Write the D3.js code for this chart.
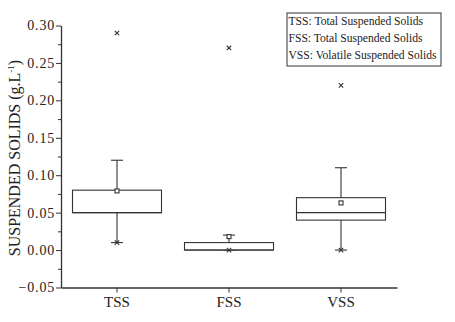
<!DOCTYPE html>
<html><head><meta charset="utf-8">
<script src="https://cdn.jsdelivr.net/npm/d3@7"></script>
<style>body{margin:0;background:#fff}svg{display:block}text{font-family:"Liberation Serif","Times New Roman",serif;fill:#222}</style>
</head><body>
<script>
const categories = ["TSS","FSS","VSS"];
const q1 = [0.05, 0.0, 0.04];
const median = [0.05, 0.0, 0.05];
const q3 = [0.08, 0.01, 0.07];
const whiskerLow = [0.01, 0.0, 0.0];
const whiskerHigh = [0.12, 0.02, 0.11];
const means = [0.079, 0.018, 0.063];
const minMarks = [0.01, 0.0, 0.0];
const maxMarks = [0.29, 0.27, 0.22];
const yTicks = [-0.05, 0.00, 0.05, 0.10, 0.15, 0.20, 0.25, 0.30];
const legendLines = ["TSS: Total Suspended Solids","FSS: Total Suspended Solids","VSS: Volatile Suspended Solids"];

const W=455,H=322;
const svg=d3.select("body").append("svg").attr("width",W).attr("height",H);
const x=d3.scaleBand().domain(categories).range([61,397]).padding(0);
const y=d3.scaleLinear().domain([-0.05,0.30]).range([287.5,25.5]);
const col="#333";

const ya=svg.append("g").attr("transform","translate(61,0)")
  .call(d3.axisLeft(y).tickValues(yTicks).tickFormat(d3.format(".2f")).tickSize(5).tickSizeOuter(0));
const minor=d3.range(-0.025,0.30,0.05);
svg.append("g").attr("transform","translate(61,0)")
  .call(d3.axisLeft(y).tickValues(minor).tickFormat("").tickSize(3).tickSizeOuter(0))
  .select(".domain").remove();
const xa=svg.append("g").attr("transform","translate(0,287.5)")
  .call(d3.axisBottom(x).tickSize(5).tickSizeOuter(0));
svg.selectAll(".domain").attr("stroke",col).attr("stroke-width",1.3);
svg.selectAll(".tick line").attr("stroke",col);
ya.selectAll("text").attr("font-size",14).attr("font-family","Liberation Serif").attr("fill","#222").attr("x",-6).attr("letter-spacing","0.8");
xa.selectAll("text").attr("font-size",15).attr("font-family","Liberation Serif").attr("fill","#222").attr("y",9);

svg.append("text").attr("transform","translate(20,158) rotate(-90)").attr("text-anchor","middle")
  .attr("font-size",16).attr("fill","#222")
  .html('SUSPENDED SOLIDS (g.L<tspan dy="-6" font-size="9">-1</tspan><tspan dy="6">)</tspan>');

const bw=89;
const g=svg.append("g").attr("stroke",col).attr("fill","none").attr("stroke-width",1.1);
categories.forEach((c,i)=>{
  const cx=x(c)+x.bandwidth()/2;
  g.append("line").attr("x1",cx).attr("x2",cx).attr("y1",y(whiskerHigh[i])).attr("y2",y(q3[i]));
  g.append("line").attr("x1",cx).attr("x2",cx).attr("y1",y(q1[i])).attr("y2",y(whiskerLow[i]));
  g.append("line").attr("x1",cx-6).attr("x2",cx+6).attr("y1",y(whiskerHigh[i])).attr("y2",y(whiskerHigh[i]));
  g.append("line").attr("x1",cx-6).attr("x2",cx+6).attr("y1",y(whiskerLow[i])).attr("y2",y(whiskerLow[i]));
  g.append("rect").attr("x",cx-bw/2).attr("width",bw).attr("y",y(q3[i])).attr("height",Math.max(0,y(q1[i])-y(q3[i]))).attr("fill","#fff");
  g.append("line").attr("x1",cx-bw/2).attr("x2",cx+bw/2).attr("y1",y(median[i])).attr("y2",y(median[i]));
  g.append("rect").attr("x",cx-2).attr("y",y(means[i])-2).attr("width",4).attr("height",4).attr("fill","#fff");
  [minMarks[i],maxMarks[i]].forEach(v=>{
    const yy=y(v);
    g.append("path").attr("d",`M${cx-2.2},${yy-2.2}L${cx+2.2},${yy+2.2}M${cx-2.2},${yy+2.2}L${cx+2.2},${yy-2.2}`);
  });
});

const lg=svg.append("g");
lg.append("rect").attr("x",287).attr("y",13).attr("width",154).attr("height",53).attr("fill","#fff").attr("stroke",col);
legendLines.forEach((t,i)=>{
  lg.append("text").attr("x",288.5).attr("y",24.5+i*17).attr("font-size",11.6).text(t);
});
</script>
</body></html>
